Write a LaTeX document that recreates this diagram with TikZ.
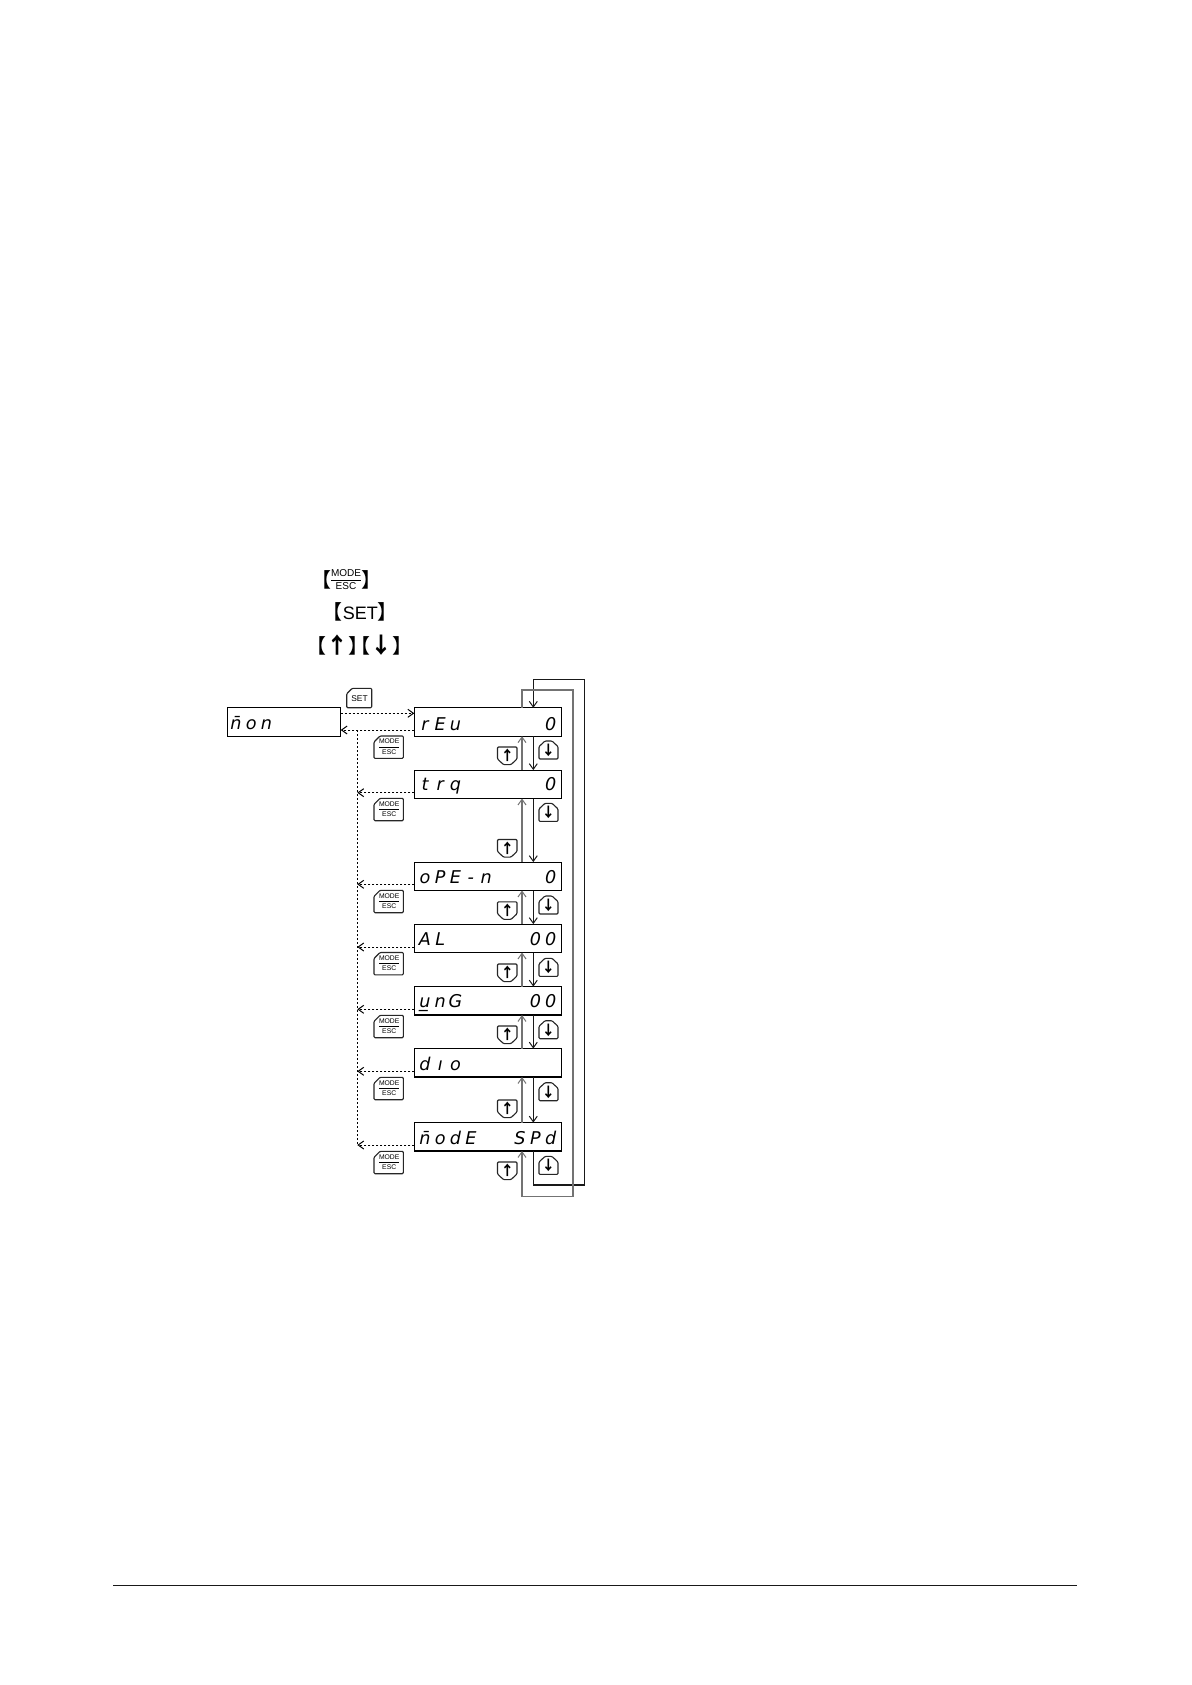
\documentclass[tikz,border=0pt]{standalone}
\usepackage{fontspec}
\usepackage{array}
\setmainfont{Liberation Sans}
\newfontfamily\segf{DejaVu Sans}
\newfontfamily\cjkf{Noto Sans CJK JP}
\usetikzlibrary{arrows.meta}
\newcommand{\gl}[1]{\makebox[7.65pt][c]{#1}}
\newcommand{\mfrac}{\setlength{\tabcolsep}{0pt}\renewcommand{\arraystretch}{0.8}\begin{tabular}{c}MODE\\[.35pt]\hline\rule{0pt}{3.4pt}ESC\end{tabular}}
\newcommand{\hfrac}{\setlength{\tabcolsep}{0pt}\renewcommand{\arraystretch}{0.85}\begin{tabular}{c}MODE\\[.5pt]\hline\rule{0pt}{4.6pt}ESC\end{tabular}}
\newcommand{\brk}{\cjkf\fontsize{10}{10}\selectfont}
\tikzset{
  dbox/.style={draw=black,line width=.6pt,minimum width=73.7pt,minimum height=14.2pt,inner sep=0pt,outer sep=0pt},
  seg/.style={inner sep=0pt,outer sep=0pt,font=\segf\itshape\fontsize{8.8}{9}\selectfont},
  btn/.style={draw=black!85,line width=.55pt,rounded corners=.5pt,line join=round},
  blab/.style={inner sep=0pt,outer sep=0pt,font=\fontsize{3.4}{4}\selectfont},
  barrow/.style={inner sep=0pt,outer sep=0pt,font=\cjkf\bfseries\fontsize{6.8}{7}\selectfont},
  head/.style={inner sep=0pt,outer sep=0pt,font=\fontsize{9}{10}\selectfont},
  tip/.style={-{Straight Barb[length=2.8pt,width=4pt,line width=.5pt]}},
  downl/.style={draw=black!90,line width=.55pt},
  upl/.style={draw=black!55,line width=.75pt},
  dsh/.style={draw=black,line width=.5pt,dash pattern=on 1.1pt off .9pt},
}
% #1 name, #2 x left, #3 y top
\newcommand{\modebtn}[3]{%
  \draw[btn,shift={(#2,#3)}] (0,6) -- (6,0) -- (29.3,0) -- (29.3,22.4) -- (0,22.4) -- cycle;
  \node[blab] (#1) at (#2+15.2,#3+11.6) {\mfrac};}
\newcommand{\upbtn}[3]{%
  \draw[btn,shift={(#2,#3)}] (0,0) -- (19.5,0) -- (19.5,12) -- (13.5,17.6) -- (6,17.6) -- (0,12) -- cycle;
  \node[barrow] (#1) at (#2+9.8,#3+8.6) {↑};}
\newcommand{\dnbtn}[3]{%
  \draw[btn,shift={(#2,#3)}] (0,5.6) -- (6,0) -- (13,0) -- (19,5.6) -- (19,18) -- (0,18) -- cycle;
  \node[barrow] (#1) at (#2+9.5,#3+9.2) {↓};}
\begin{document}
\begin{tikzpicture}[x=0.5pt,y=-0.5pt]
\useasboundingbox (0,0) rectangle (1192,1685);
\fill[white] (0,0) rectangle (1192,1685);
% header
\node[head] (h1) at (346,581) {\brk【\rmfamily\fontsize{5}{5.5}\selectfont\raisebox{.35em}{\hfrac}\brk】};
\node[head] (h2) at (360.3,611.5) {\brk【\rmfamily\fontsize{9}{10}\selectfont SET\brk】};
\node[head] (h3) at (359.5,645) {\brk【{\bfseries\fontsize{11}{11}\selectfont ↑}】\hspace{-9pt}【{\bfseries\fontsize{11}{11}\selectfont ↓}】};
% displays
\node[dbox,minimum width=56.7pt] (mon) at (284,722) {};
\node[dbox] (rEu) at (488,722) {};
\node[dbox] (trq) at (488,784.3) {};
\node[dbox] (oPE) at (488,876.3) {};
\node[dbox] (AL) at (488,938.3) {};
\node[dbox] (vnG) at (488,1000.8) {};
\node[dbox] (dio) at (488,1062.8) {};
\node[dbox] (mde) at (488,1136.8) {};
% display text
\node[seg,anchor=base west] (t0) at (228.3,729) {\gl{n̄}\gl{o}\gl{n}};
\node[seg,anchor=base west] (t1) at (417.3,730) {\gl{r}\gl{E}\gl{u}};
\node[seg,anchor=base east] (r1) at (558.3,730) {\gl{0}};
\node[seg,anchor=base west] (t2) at (417.3,790) {\gl{t}\gl{r}\gl{q}};
\node[seg,anchor=base east] (r2) at (558.3,790) {\gl{0}};
\node[seg,anchor=base west] (t3) at (417.3,883) {\gl{o}\gl{P}\gl{E}\gl{-}\gl{n}};
\node[seg,anchor=base east] (r3) at (558.3,883) {\gl{0}};
\node[seg,anchor=base west] (t4) at (417.3,945) {\gl{A}\gl{L}};
\node[seg,anchor=base east] (r4) at (558.3,945) {\gl{0}\gl{0}};
\node[seg,anchor=base west] (t5) at (417.3,1007.5) {\gl{u̲}\gl{n}\gl{G}};
\node[seg,anchor=base east] (r5) at (558.3,1007.5) {\gl{0}\gl{0}};
\node[seg,anchor=base west] (t6) at (417.3,1070) {\gl{d}\gl{ı}\gl{o}};
\node[seg,anchor=base west] (t7) at (417.3,1144.5) {\gl{n̄}\gl{o}\gl{d}\gl{E}};
\node[seg,anchor=base east] (r7) at (558.3,1144.5) {\gl{S}\gl{P}\gl{d}};
% buttons
\draw[btn,shift={(346.7,688.3)}] (0,5.5) -- (5.5,0) -- (25,0) -- (25,19.4) -- (0,19.4) -- cycle;
\node[blab,font=\fontsize{4.2}{5}\selectfont] (bset) at (359.5,698.5) {SET};
\modebtn{m1}{374}{736}
\modebtn{m2}{374}{798.3}
\modebtn{m3}{374}{890.3}
\modebtn{m4}{374}{952.5}
\modebtn{m5}{374}{1015.3}
\modebtn{m6}{374}{1077.3}
\modebtn{m7}{374}{1151.3}
\upbtn{u1}{497.5}{747}
\upbtn{u2}{497.5}{839.5}
\upbtn{u3}{497.5}{901.8}
\upbtn{u4}{497.5}{964}
\upbtn{u5}{497.5}{1026}
\upbtn{u6}{497.5}{1100}
\upbtn{u7}{497.5}{1162}
\dnbtn{d1}{539}{741}
\dnbtn{d2}{539}{803.3}
\dnbtn{d3}{539}{896}
\dnbtn{d4}{539}{958.3}
\dnbtn{d5}{539}{1020.7}
\dnbtn{d6}{539}{1082.7}
\dnbtn{d7}{539}{1156.4}
% helper coordinates
\coordinate (ux) at (522,0);
\coordinate (dx) at (533.3,0);
\coordinate (tr) at (357.3,0);
\coordinate (lo) at (584.3,1185);
\coordinate (li) at (573,1196.3);
\coordinate (hi) at (584.3,679.3);
\coordinate (hj) at (573,690);
% vertical connectors
\foreach \a/\b in {rEu/trq,trq/oPE,oPE/AL,AL/vnG,vnG/dio,dio/mde}{
  \draw[downl,tip] (\a.south -| dx) -- (\b.north -| dx);
  \draw[upl,tip] (\b.north -| ux) -- (\a.south -| ux);
}
% wrap-around loops
\draw[downl,tip] (mde.south -| dx) -- (dx |- lo) -- (lo) -- (hi) -- (dx |- hi) -- (rEu.north -| dx);
\draw[upl,tip] (rEu.north -| ux) -- (ux |- hj) -- (hj) -- (li) -- (ux |- li) -- (mde.south -| ux);
% dashed
\draw[dsh,tip] (mon.east |- 0,713.3) -- (rEu.west |- 0,713.3);
\draw[dsh,tip] (rEu.west |- 0,730) -- (mon.east |- 0,730);
\draw[dsh] (tr |- 0,730) -- (tr |- 0,1145);
\draw[dsh,tip] (trq.west |- 0,792.7) -- (tr |- 0,792.7);
\draw[dsh,tip] (oPE.west |- 0,884.3) -- (tr |- 0,884.3);
\draw[dsh,tip] (AL.west |- 0,947) -- (tr |- 0,947);
\draw[dsh,tip] (vnG.west |- 0,1009.3) -- (tr |- 0,1009.3);
\draw[dsh,tip] (dio.west |- 0,1071.3) -- (tr |- 0,1071.3);
\draw[dsh,tip] (mde.west |- 0,1145) -- (tr |- 0,1145);
% footer rule
\draw[black!90,line width=.6pt] (113,1585.3) -- (1077,1585.3);
\end{tikzpicture}
\end{document}
